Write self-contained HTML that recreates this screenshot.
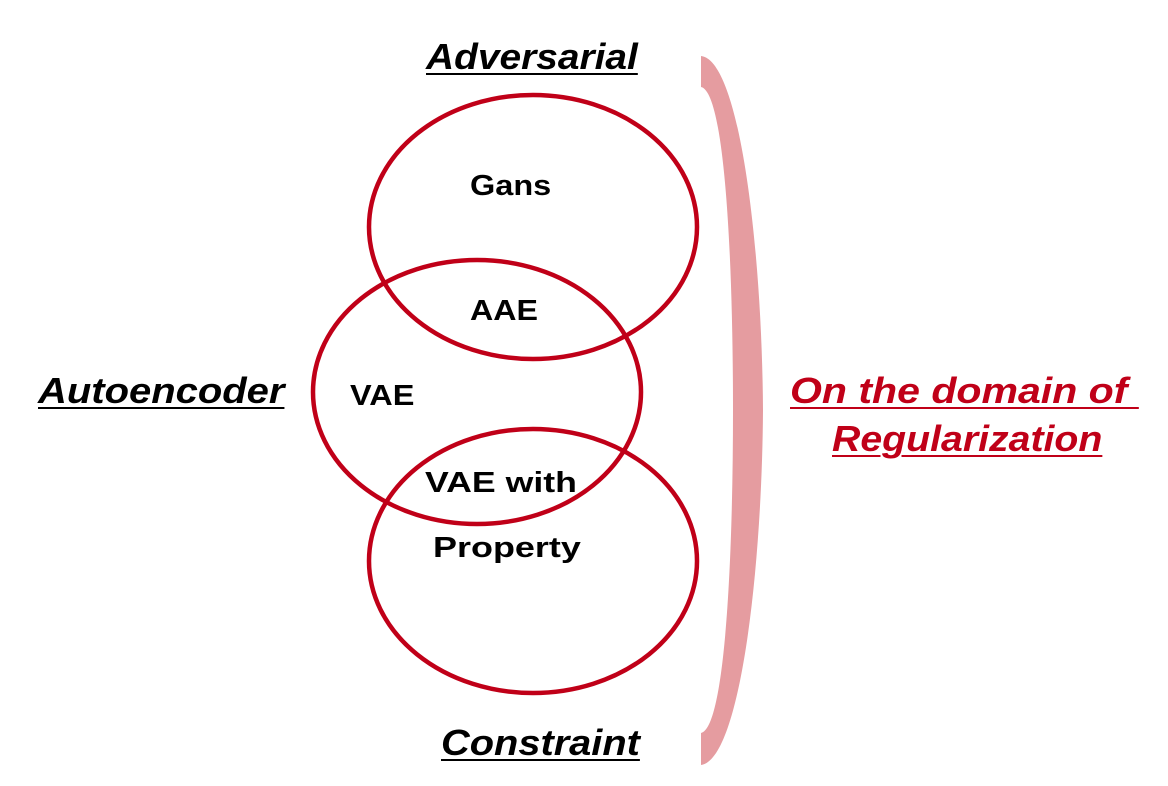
<!DOCTYPE html>
<html><head><meta charset="utf-8"><style>
html,body{margin:0;padding:0;background:#fff;}
body{width:1168px;height:786px;overflow:hidden;position:relative;font-family:"Liberation Sans","Noto Sans CJK KR",sans-serif;}
svg{position:absolute;left:0;top:0;}
.t{position:absolute;font-weight:bold;white-space:nowrap;transform-origin:0 0;}
.h{font-style:italic;text-decoration:underline;font-size:36px;text-decoration-thickness:2px;text-underline-offset:4px;}
.l{font-size:29px;color:#000;}
</style></head><body>
<svg width="1168" height="786">
<ellipse cx="533" cy="227" rx="164" ry="132" fill="none" stroke="#C00018" stroke-width="4.5"/>
<ellipse cx="477" cy="392" rx="164" ry="132" fill="none" stroke="#C00018" stroke-width="4.5"/>
<ellipse cx="533" cy="561" rx="164" ry="132" fill="none" stroke="#C00018" stroke-width="4.5"/>
<path d="M701,56 C740,60 762,250 763,410 C762,570 740,760 701,765 L701,733 C725,728 733,560 733,410 C733,260 725,92 701,87 Z" fill="#E59CA0"/>
</svg>
<div class="t h" style="left:426px;top:36px;transform:scaleX(1.08);">Adversarial</div>
<div class="t h" style="left:38px;top:370px;transform:scaleX(1.11);">Autoencoder</div>
<div class="t h" style="left:441px;top:722px;transform:scaleX(1.105);">Constraint</div>
<div class="t h" style="left:790px;top:370px;color:#C00018;transform:scaleX(1.14);">On the domain of&nbsp;</div>
<div class="t h" style="left:832px;top:418px;color:#C00018;transform:scaleX(1.09);">Regularization</div>
<div class="t l" style="left:470px;top:170px;transform:scaleX(1.12);">Gans</div>
<div class="t l" style="left:470px;top:295px;transform:scaleX(1.11);">AAE</div>
<div class="t l" style="left:350px;top:380px;transform:scaleX(1.12);">VAE</div>
<div class="t l" style="left:425px;top:467px;transform:scaleX(1.23);">VAE with</div>
<div class="t l" style="left:433px;top:532px;transform:scaleX(1.24);">Property</div>
</body></html>
